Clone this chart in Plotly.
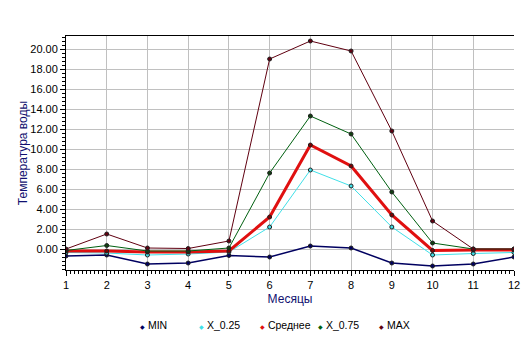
import plotly.graph_objects as go

months = [1, 2, 3, 4, 5, 6, 7, 8, 9, 10, 11, 12]
series_names = ["MIN", "X_0.25", "Среднее", "X_0.75", "MAX"]
v_min = [-0.7, -0.6, -1.5, -1.4, -0.65, -0.8, 0.3, 0.1, -1.4, -1.7, -1.5, -0.8]
v_q25 = [-0.35, -0.4, -0.6, -0.5, -0.3, 2.2, 7.9, 6.3, 2.2, -0.6, -0.45, -0.35]
v_mean = [-0.2, -0.2, -0.3, -0.3, -0.2, 3.2, 10.4, 8.3, 3.4, -0.15, -0.1, -0.1]
v_q75 = [-0.15, 0.35, -0.2, -0.2, 0.1, 7.6, 13.3, 11.5, 5.7, 0.6, 0.0, 0.0]
v_max = [0.0, 1.5, 0.1, 0.05, 0.8, 19.0, 20.8, 19.8, 11.8, 2.8, 0.0, 0.0]
y_ticks = [0, 2, 4, 6, 8, 10, 12, 14, 16, 18, 20]
y_tick_text = ["%.2f" % v for v in y_ticks]

values = [v_min, v_q25, v_mean, v_q75, v_max]
line_colors = ["#000060", "#40e0e8", "#e01010", "#006010", "#600010"]
marker_fill = ["#000060", "#40e0e8", "#800000", "#104010", "#600010"]
widths = [1.5, 1, 3, 1, 1]

W, H = 532, 347
L, R, T, B = 66, 16, 36, 77

fig = go.Figure()
for name, vals, lc, mf, w in zip(series_names, values, line_colors, marker_fill, widths):
    fig.add_trace(go.Scatter(
        x=months, y=vals, name=name, mode="lines+markers",
        line=dict(color=lc, width=w),
        marker=dict(size=4, color=mf, line=dict(color="#202020", width=1)),
        showlegend=False,
    ))

# legend as annotations
legend_px = [141, 201, 262, 320, 381]
for name, px, lc in zip(series_names, legend_px, line_colors):
    fig.add_annotation(
        x=(px - L) / (W - L - R), y=(H - B - 325) / (H - B - T),
        xref="paper", yref="paper", xanchor="left", yanchor="middle",
        xshift=-3, showarrow=False,
        text="<span style='color:%s;font-size:6px'>◆</span> %s" % (lc, name),
        font=dict(family="Liberation Sans, Arial", size=10.5, color="black"),
    )

fig.update_layout(
    width=W, height=H,
    margin=dict(l=L, r=R, t=T, b=B),
    paper_bgcolor="white", plot_bgcolor="white",
    font=dict(family="Liberation Sans, Arial", size=11, color="black"),
)
fig.update_xaxes(
    range=[1, 12], tickvals=months, ticktext=[str(m) for m in months],
    showgrid=True, gridcolor="#c0c0c0", gridwidth=1,
    showline=True, linecolor="black", linewidth=1, mirror=True,
    ticks="outside", ticklen=5, tickcolor="black",
    minor=dict(dtick=0.1, tick0=1, ticks="outside", ticklen=3, tickcolor="black", showgrid=False),
    zeroline=False,
    title=dict(text="Месяцы", font=dict(color="#101070", size=12), standoff=4),
)
fig.update_yaxes(
    range=[-2.1, 21.3], tickvals=y_ticks, ticktext=y_tick_text,
    showgrid=True, gridcolor="#c0c0c0", gridwidth=1,
    showline=True, linecolor="black", linewidth=1,
    ticks="outside", ticklen=5, tickcolor="black",
    minor=dict(dtick=0.4, tick0=0, ticks="outside", ticklen=3, tickcolor="black", showgrid=False),
    zeroline=False,
    title=dict(text="Температура воды", font=dict(color="#101070", size=12), standoff=0),
)
fig.write_html("out.html")
